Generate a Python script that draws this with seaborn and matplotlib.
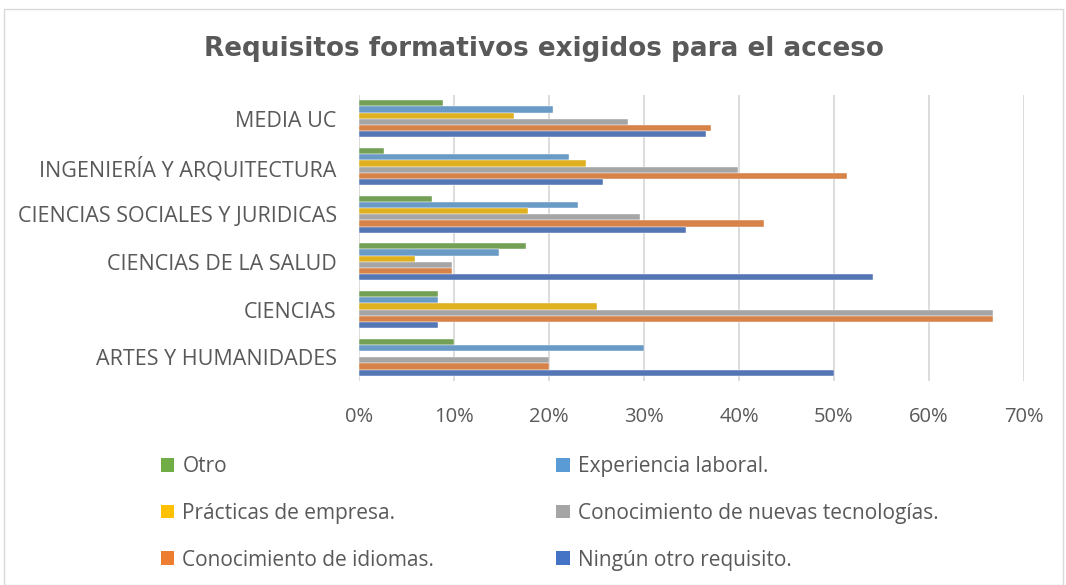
import matplotlib
matplotlib.use("Agg")
import matplotlib.pyplot as plt
import seaborn as sns
import pandas as pd
from matplotlib.patches import Patch, Rectangle
from matplotlib.ticker import PercentFormatter

categories = ["MEDIA UC", "INGENIERÍA Y ARQUITECTURA", "CIENCIAS SOCIALES Y JURIDICAS",
              "CIENCIAS DE LA SALUD", "CIENCIAS", "ARTES Y HUMANIDADES"]
series = ["Otro", "Experiencia laboral.", "Prácticas de empresa.",
          "Conocimiento de nuevas tecnologías.", "Conocimiento de idiomas.", "Ningún otro requisito."]
otro = [8.8, 2.6, 7.7, 17.6, 8.3, 10.0]
experiencia = [20.4, 22.1, 23.1, 14.7, 8.3, 30.0]
practicas = [16.3, 23.9, 17.8, 5.9, 25.0, 0.0]
tecnologias = [28.3, 39.9, 29.6, 9.8, 66.7, 20.0]
idiomas = [37.0, 51.4, 42.6, 9.8, 66.7, 20.0]
ninguno = [36.5, 25.7, 34.4, 54.1, 8.3, 50.0]
colors = ["#70AD47", "#5B9BD5", "#FFC000", "#A5A5A5", "#ED7D31", "#4472C4"]
xticks = [0, 10, 20, 30, 40, 50, 60, 70]

values = [otro, experiencia, practicas, tecnologias, idiomas, ninguno]
rows = []
for s, vals in zip(series, values):
    for c, v in zip(categories, vals):
        rows.append({"Facultad": c, "Requisito": s, "Valor": v})
df = pd.DataFrame(rows)

sns.set_theme(style="white")
plt.rcParams["font.family"] = ["Open Sans", "DejaVu Sans"]

fig = plt.figure(figsize=(10.66, 5.85), dpi=100)
ax = fig.add_axes([0.3368, 0.3487, 0.6238, 0.4889])

sns.barplot(data=df, y="Facultad", x="Valor", hue="Requisito", order=categories,
            hue_order=series, palette=colors, orient="h", width=0.78,
            edgecolor="white", linewidth=0.3, ax=ax, legend=False)

ax.set_xlim(0, 70)
ax.set_xticks(xticks)
ax.xaxis.set_major_formatter(PercentFormatter(decimals=0))
ax.grid(axis="x", color="#D9D9D9", linewidth=1.3)
ax.set_axisbelow(True)
for sp in ax.spines.values():
    sp.set_visible(False)
ax.set_xlabel("")
ax.set_ylabel("")
ax.tick_params(axis="y", length=0, pad=16, labelsize=15.5, labelcolor="#595959")
ax.tick_params(axis="x", length=0, pad=19, labelsize=14.5, labelcolor="#595959")

fig.text(0.5103, 0.9155, "Requisitos formativos exigidos para el acceso",
         ha="center", va="center", fontsize=18.9, fontweight="bold",
         color="#595959", family="DejaVu Sans")

handles = [Patch(facecolor=c, edgecolor="none") for c in colors]
leg_kw = dict(frameon=False, fontsize=15, labelcolor="#595959", handlelength=0.63,
              handleheight=0.63, handletextpad=0.4, labelspacing=1.23, borderpad=0,
              borderaxespad=0)
l1 = fig.legend([handles[0], handles[2], handles[4]], [series[0], series[2], series[4]],
                loc="upper left", bbox_to_anchor=(0.151, 0.220), **leg_kw)
l2 = fig.legend([handles[1], handles[3], handles[5]], [series[1], series[3], series[5]],
                loc="upper left", bbox_to_anchor=(0.522, 0.220), **leg_kw)

fig.patches.append(Rectangle((0.004, 0.0), 0.993, 0.984, transform=fig.transFigure,
                             fill=False, edgecolor="#D9D9D9", linewidth=1.0))

fig.savefig("out.png", dpi=100, facecolor="white")
